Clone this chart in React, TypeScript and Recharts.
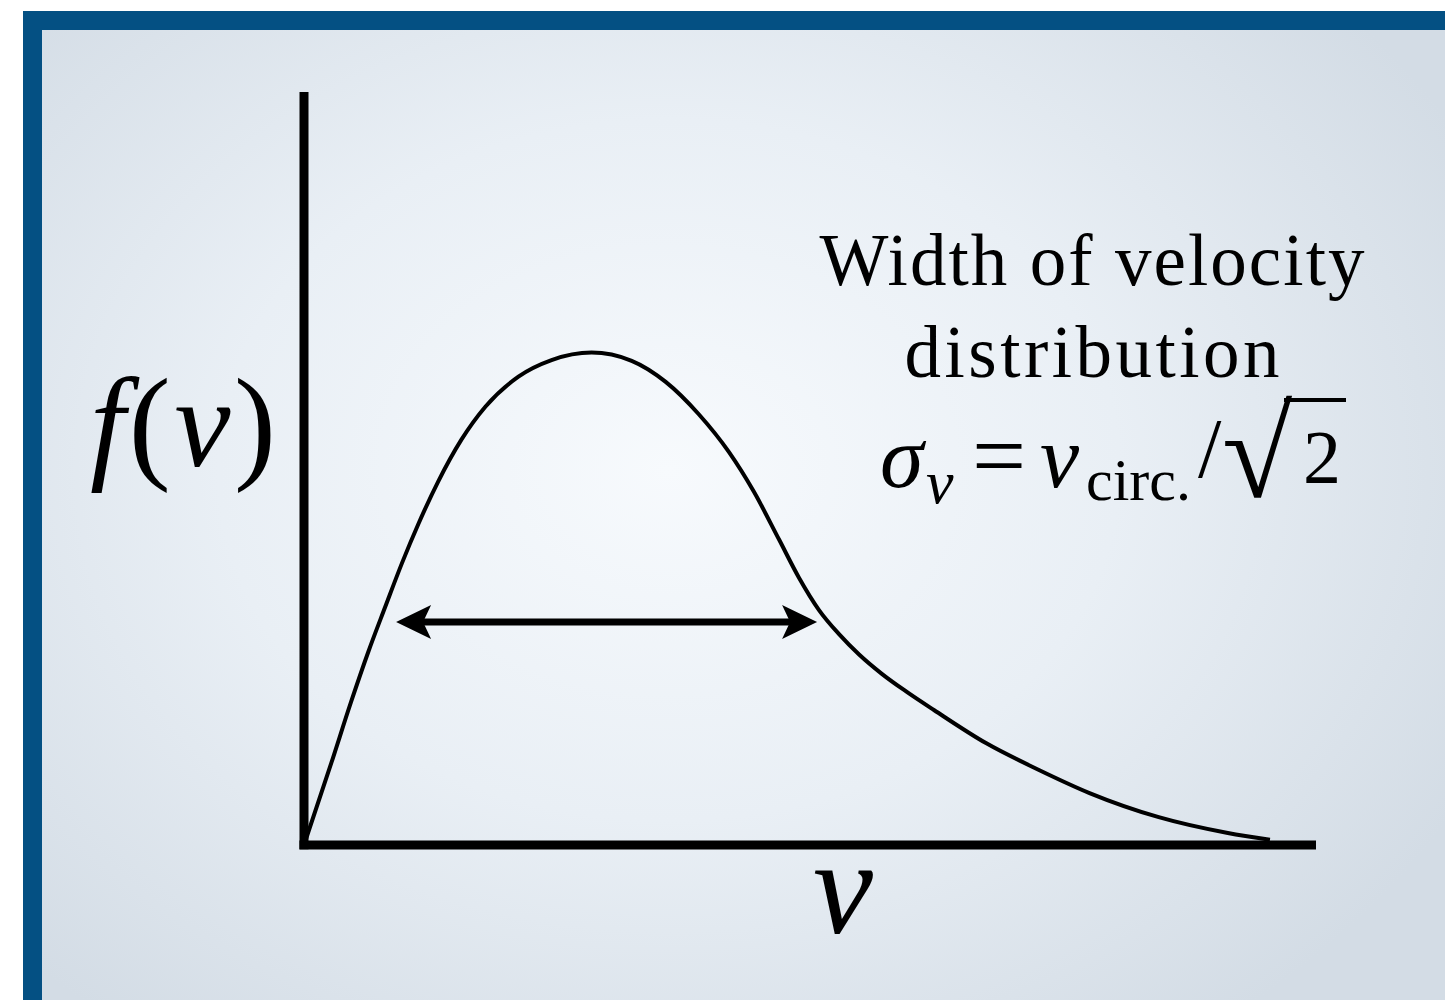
import React from "react";
import { LineChart, Line, XAxis, YAxis, ReferenceLine } from "recharts";

// curve: speed v (arbitrary units) vs f(v)
const velocity = [
  0, 0.27, 0.465, 0.634, 0.802, 0.97, 1.129, 1.327, 1.554, 1.792, 2.119, 2.446,
  2.842, 3.238, 3.574, 3.901, 4.198, 4.446, 4.693, 4.891, 5.089, 5.287, 5.485,
  5.713, 5.96, 6.228, 6.743, 7.257, 7.762, 8.446, 9.129, 9.545,
];
const density = [
  0, 0.109, 0.19, 0.256, 0.316, 0.375, 0.426, 0.483, 0.538, 0.582, 0.622, 0.644,
  0.654, 0.643, 0.615, 0.572, 0.522, 0.469, 0.406, 0.355, 0.312, 0.28, 0.253,
  0.227, 0.203, 0.179, 0.135, 0.1, 0.069, 0.037, 0.016, 0.007,
];
// ends of the width arrow
const widthFrom = { v: 0.91, f: 0.296 };
const widthTo = { v: 5.07, f: 0.296 };

const curve = velocity.map((v, i) => ({ v, f: density[i] }));

const SERIF = "'Liberation Serif', 'Times New Roman', serif";

const DoubleArrow = (p: any) => {
  const { x1, y1, x2 } = p;
  const y = y1;
  return (
    <g>
      <line x1={x1 + 20} y1={y} x2={x2 - 20} y2={y} stroke="#000" strokeWidth={7} />
      <polygon
        points={`${x1},${y} ${x1 + 35},${y - 17} ${x1 + 27},${y} ${x1 + 35},${y + 17}`}
        fill="#000"
      />
      <polygon
        points={`${x2},${y} ${x2 - 35},${y - 17} ${x2 - 27},${y} ${x2 - 35},${y + 17}`}
        fill="#000"
      />
    </g>
  );
};

const Labels = () => (
  <svg
    width={1445}
    height={1000}
    style={{ position: "absolute", left: 0, top: 0, pointerEvents: "none" }}
  >
    <g fontFamily={SERIF} fill="#000">
      {/* y label */}
      <text x={90} y={466} fontSize={126} textLength={186} lengthAdjust="spacing">
        <tspan fontStyle="italic">f</tspan>
        <tspan>(</tspan>
        <tspan fontStyle="italic">v</tspan>
        <tspan>)</tspan>
      </text>
      {/* x label */}
      <text x={813} y={933} fontSize={135} fontStyle="italic">
        v
      </text>

      <text x={1092} y={285} fontSize={73} textAnchor="middle" textLength={545} lengthAdjust="spacing">
        Width of velocity
      </text>
      <text x={1092} y={377} fontSize={73} textAnchor="middle" textLength={375} lengthAdjust="spacing">
        distribution
      </text>

      {/* σ_v = v_circ./√2 */}
      <text x={880} y={487} fontSize={88} fontStyle="italic">σ</text>
      <text x={926} y={503} fontSize={62} fontStyle="italic">v</text>
      <text x={972} y={488} fontSize={96}>=</text>
      <text x={1040} y={487} fontSize={88} fontStyle="italic">v</text>
      <text x={1086} y={500} fontSize={60}>circ.</text>
      <text x={1198} y={477} fontSize={84}>/</text>
      <text x={1222} y={497} fontSize={128}>√</text>
      <line x1={1284} y1={400} x2={1346} y2={400} stroke="#000" strokeWidth={4} />
      <text x={1303} y={483} fontSize={76}>2</text>
    </g>
  </svg>
);

export default function App() {
  return (
    <div
      style={{
        position: "absolute",
        left: 0,
        top: 0,
        width: 1445,
        height: 1000,
        overflow: "hidden",
        background: "#ffffff",
      }}
    >
      <div
        style={{
          position: "absolute",
          left: 23,
          top: 11,
          width: 1440,
          height: 990,
          border: "19px solid #045083",
          background:
            "radial-gradient(ellipse 900px 700px at 627px 440px, #f7fafd 0%, #e9eff5 50%, #d3dce5 100%)",
        }}
      />
      <div style={{ position: "absolute", left: 0, top: 0 }}>
        <LineChart
          width={1445}
          height={1000}
          data={curve}
          margin={{ top: 92, right: 129, bottom: 155, left: 304 }}
        >
          <XAxis type="number" dataKey="v" domain={[0, 10]} hide />
          <YAxis type="number" domain={[0, 1]} hide />
          {/* axes drawn as thick lines */}
          <ReferenceLine
            segment={[
              { x: 0, y: -0.0055 },
              { x: 0, y: 1 },
            ]}
            stroke="#000"
            strokeWidth={9}
            ifOverflow="visible"
          />
          <ReferenceLine
            segment={[
              { x: -0.045, y: 0 },
              { x: 10, y: 0 },
            ]}
            stroke="#000"
            strokeWidth={9}
            ifOverflow="visible"
          />
          <ReferenceLine
            segment={[
              { x: widthFrom.v, y: widthFrom.f },
              { x: widthTo.v, y: widthTo.f },
            ]}
            shape={DoubleArrow}
          />
          <Line
            type="monotone"
            dataKey="f"
            stroke="#000"
            strokeWidth={4}
            dot={false}
            isAnimationActive={false}
          />
        </LineChart>
      </div>
      <Labels />
    </div>
  );
}
